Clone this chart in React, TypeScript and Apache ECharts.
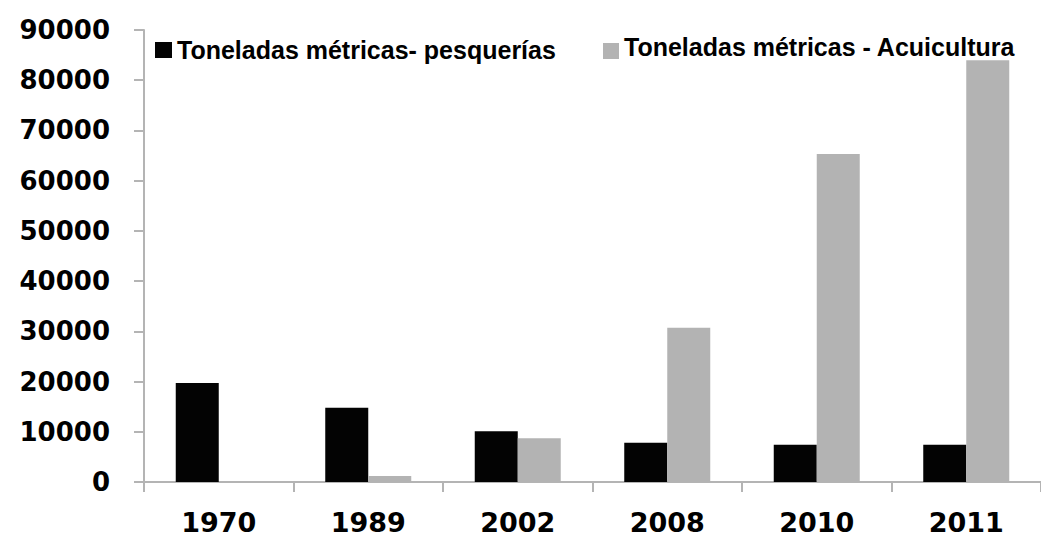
import React, { useEffect, useRef } from "react";
import * as echarts from "echarts";

const categories = ["1970", "1989", "2002", "2008", "2010", "2011"];
const pesquerias = [19700, 14800, 10100, 7800, 7400, 7400];
const acuicultura = [0, 1200, 8700, 30700, 65300, 84000];
const seriesNames = ["Toneladas métricas- pesquerías", "Toneladas métricas - Acuicultura"];

export default function App() {
  const ref = useRef<HTMLDivElement>(null);
  useEffect(() => {
    if (!ref.current) return;
    const chart = echarts.init(ref.current, undefined, { renderer: "svg" });
    const axisColor = "#b4b4b4";
    const legendFont = { fontFamily: "Liberation Sans", fontWeight: "bold", fontSize: 25, color: "#000" };
    chart.setOption({
      animation: false,
      backgroundColor: "#ffffff",
      legend: [
        {
          data: [seriesNames[0]],
          left: 155,
          top: 35,
          padding: 0,
          icon: "rect",
          itemWidth: 17,
          itemHeight: 16,
          textStyle: { ...legendFont, lineHeight: 30 },
        },
        {
          data: [seriesNames[1]],
          left: 603,
          top: 34,
          padding: 0,
          icon: "rect",
          itemWidth: 16,
          itemHeight: 16,
          formatter: (name: string) => "{t|" + name + "}",
          textStyle: {
            ...legendFont,
            rich: { t: { ...legendFont, lineHeight: 30, padding: [0, 0, 9, 0] } },
          },
        },
      ],
      grid: { left: 144, top: 30, bottom: 57, right: -8, containLabel: false },
      xAxis: {
        type: "category",
        data: categories,
        axisLine: { lineStyle: { color: axisColor, width: 2 } },
        axisTick: { show: true, length: 10, lineStyle: { color: axisColor, width: 2 } },
        axisLabel: {
          fontFamily: "DejaVu Sans",
          fontWeight: "bold",
          fontSize: 27,
          lineHeight: 24,
          color: "#000",
          margin: 28,
        },
      },
      yAxis: {
        type: "value",
        min: 0,
        max: 90000,
        interval: 10000,
        axisLine: { show: true, lineStyle: { color: axisColor, width: 2 } },
        axisTick: { show: true, length: 10, lineStyle: { color: axisColor, width: 2 } },
        splitLine: { show: false },
        axisLabel: {
          fontFamily: "DejaVu Sans",
          fontWeight: "bold",
          fontSize: 26,
          color: "#000",
          margin: 34,
          formatter: (v: number) => String(v),
        },
      },
      series: [
        {
          name: seriesNames[0],
          type: "bar",
          data: pesquerias,
          barWidth: 43,
          barGap: "0%",
          itemStyle: { color: "#030303" },
        },
        {
          name: seriesNames[1],
          type: "bar",
          data: acuicultura,
          barWidth: 43,
          barGap: "0%",
          itemStyle: { color: "#b3b3b3" },
        },
      ],
    });
    return () => chart.dispose();
  }, []);
  return <div ref={ref} style={{ position: "fixed", left: 0, top: 0, width: 1041, height: 539 }} />;
}
